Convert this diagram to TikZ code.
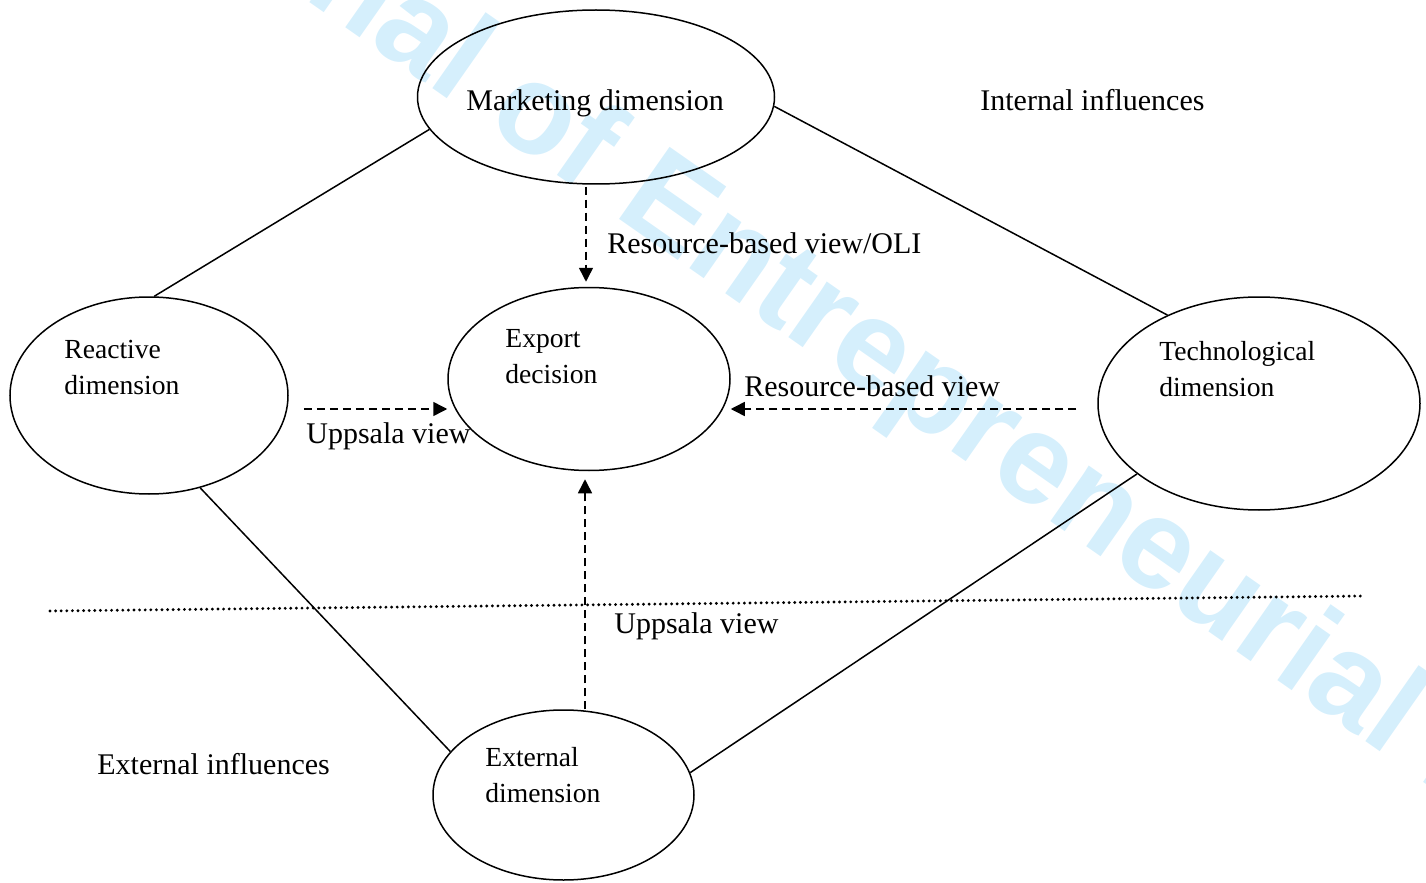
\documentclass[tikz,border=0pt]{standalone}
\usepackage{fontspec}
\setmainfont{Liberation Serif}
\newfontfamily\wmfont{Liberation Sans}
\usetikzlibrary{shapes.geometric,arrows.meta,calc}
\definecolor{wmblue}{RGB}{213,239,252}
\begin{document}
\begin{tikzpicture}[x=0.5pt,y=-0.5pt,
  dim/.style={draw,ellipse,inner sep=0pt,line width=0.75pt},
  lbl/.style={inner sep=0pt,anchor=base west,font=\fontsize{15}{18}\selectfont},
  inlbl/.style={inner sep=0pt,anchor=base west,font=\fontsize{13.8}{18.3}\selectfont},
  link/.style={line width=0.75pt},
  flow/.style={line width=0.75pt,dash pattern=on 4pt off 2.5pt,-{Triangle[length=7pt,width=7pt]}},
  divider/.style={line width=1.6pt,line cap=round,dash pattern=on 0pt off 2.8pt},
  wm/.style={inner sep=0pt,rotate=-35,text=wmblue,font=\wmfont\bfseries\fontsize{64}{64}\selectfont}]
\useasboundingbox (0,0) rectangle (1426,883);
\begin{scope}
  \clip (0,0) rectangle (1426,883);
  \node[wm,anchor=base east] (wm1) at (612,214) {International Journal of\kern 0.278em};
  \node[wm,anchor=base west] (wm2) at (612,214) {Entrepreneurial Behavior \& Research};
\end{scope}
% dimensions
\node[dim,minimum width=178.5pt,minimum height=87pt] (mkt) at (596,97) {};
\node[dim,minimum width=141pt,minimum height=91.5pt] (exp) at (589,379) {};
\node[dim,minimum width=139pt,minimum height=98.5pt] (reac) at (149,395.5) {};
\node[dim,minimum width=161pt,minimum height=106.5pt] (tech) at (1259,403.5) {};
\node[dim,minimum width=130.5pt,minimum height=85pt] (ext) at (563.5,795) {};
% texts
\node[lbl] (tmkt) at (466,111) {Marketing dimension};
\node[lbl] (tint) at (980,111) {Internal influences};
\node[lbl] (trbvo) at (607,254) {Resource-based view/OLI};
\node[inlbl] (texp) at (505,347) {\begin{tabular}[t]{@{}l@{}}Export\\decision\end{tabular}};
\node[inlbl] (treac) at (64,358) {\begin{tabular}[t]{@{}l@{}}Reactive\\dimension\end{tabular}};
\node[lbl] (tupp1) at (306,443) {Uppsala view};
\node[lbl] (trbv) at (744,396) {Resource-based view};
\node[inlbl] (ttech) at (1159,360) {\begin{tabular}[t]{@{}l@{}}Technological\\dimension\end{tabular}};
\node[lbl] (tupp2) at (614,633) {Uppsala view};
\node[lbl] (text) at (97,774) {External influences};
\node[inlbl] (textd) at (485,766) {\begin{tabular}[t]{@{}l@{}}External\\dimension\end{tabular}};
% links
\draw[link] (mkt.191) -- (reac.87);
\draw[link] (mkt.-3) -- (tech.136);
\draw[link] (reac.-61) -- (ext.159);
\draw[link] (tech.210) -- (ext.10);
% flows
\draw[flow] ([shift={(-10,2)}]mkt.south) -- ([shift={(-3,-5)}]exp.north);
\draw[flow] ([shift={(15,13.5)}]reac.east) -- ([shift={(0,30)}]exp.west);
\draw[flow] ([shift={(-21,5.5)}]tech.west) -- ([shift={(0,30)}]exp.east);
\draw[flow] ([shift={(21.5,0)}]ext.north) -- ([shift={(-4,8)}]exp.south);
% divider
\coordinate (d1) at (50,611);
\coordinate (d2) at (1363,596);
\draw[divider] (d1) -- (d2);
\end{tikzpicture}
\end{document}
